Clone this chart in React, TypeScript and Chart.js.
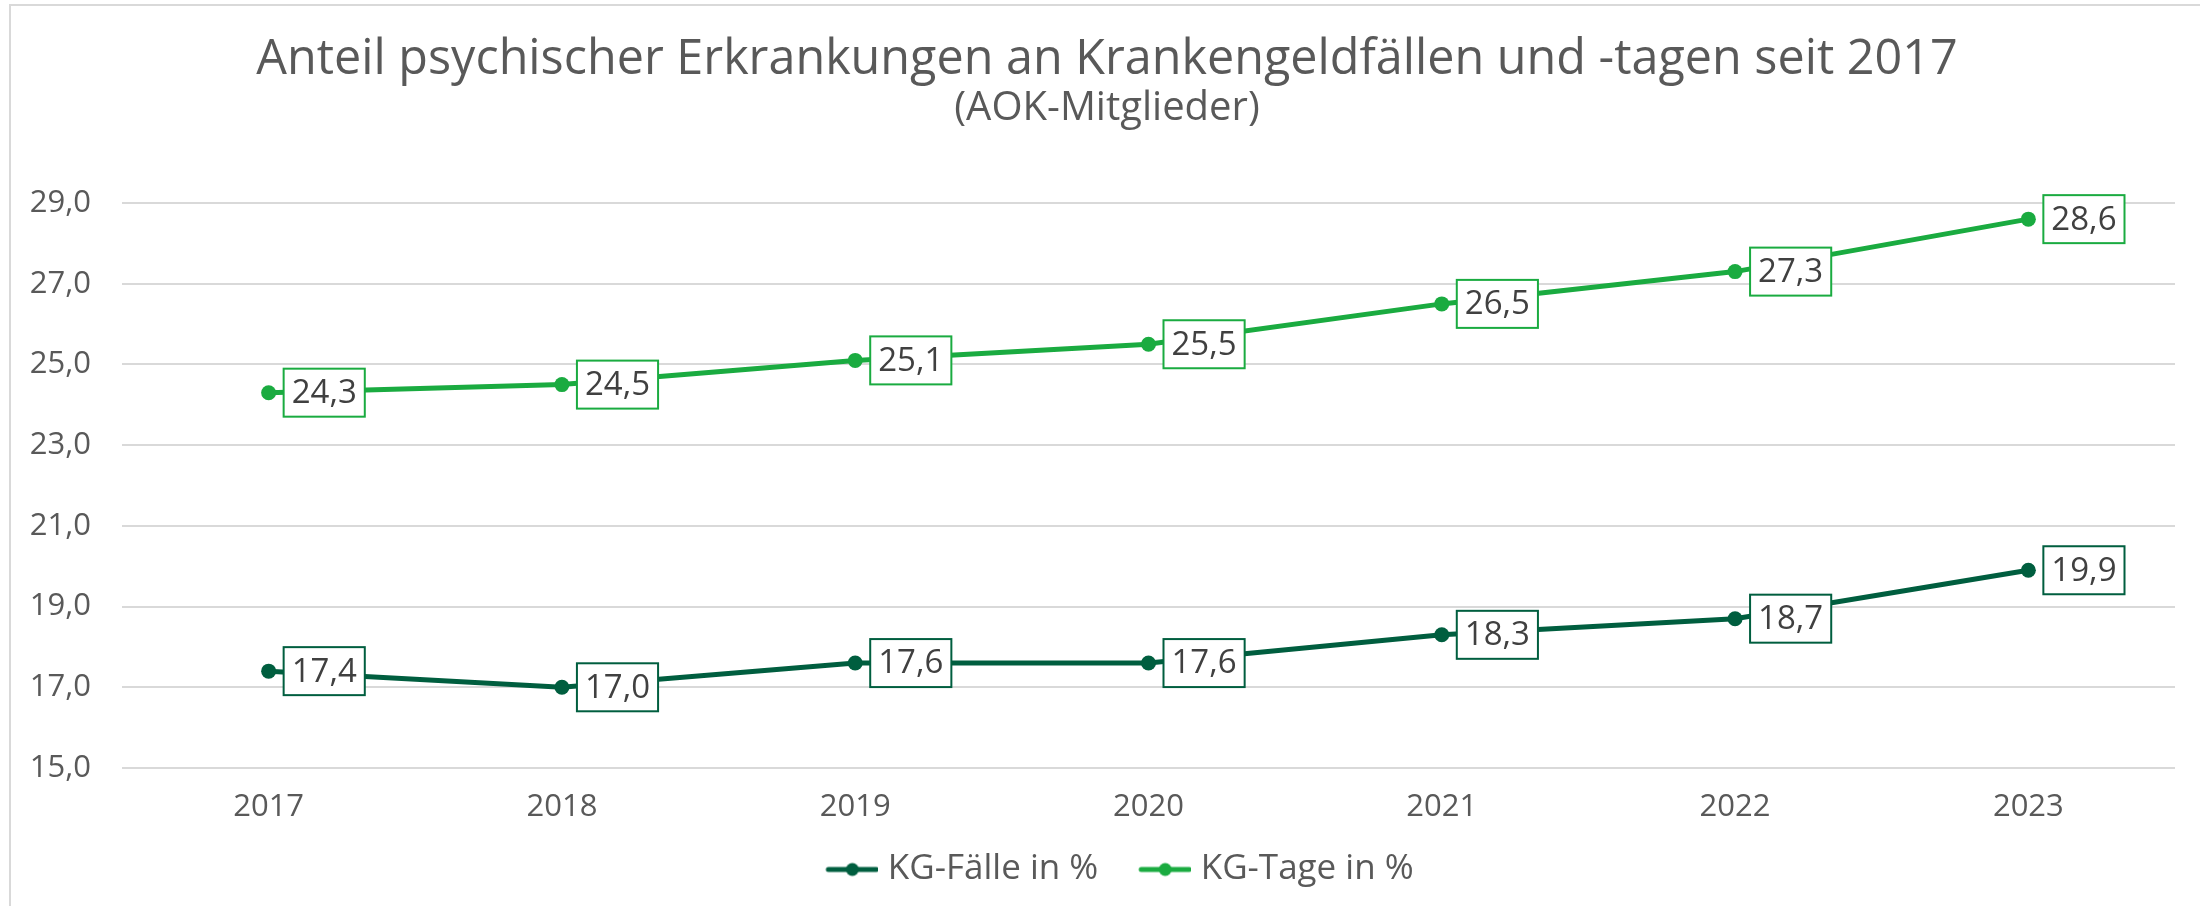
import React, { useEffect, useRef } from "react";
import { Chart, registerables } from "chart.js";

Chart.register(...registerables);

const years = ["2017", "2018", "2019", "2020", "2021", "2022", "2023"];
const kgFaelle = [17.4, 17.0, 17.6, 17.6, 18.3, 18.7, 19.9];
const kgTage = [24.3, 24.5, 25.1, 25.5, 26.5, 27.3, 28.6];
const seriesNames = ["KG-Fälle in %", "KG-Tage in %"];
const yMin = 15;
const yMax = 29;
const yStep = 2;
const titleText = "Anteil psychischer Erkrankungen an Krankengeldfällen und -tagen seit 2017";
const subtitleText = "(AOK-Mitglieder)";

const DARK = "#005E3F";
const LIGHT = "#1AAB40";
const TEXT = "#595959";
const LABEL_TEXT = "#404040";
const GRID = "#D9D9D9";
const TITLE_FONT = "'Open Sans'";
const NUM_FONT = "'Open Sans'";

const fmt = (v: number) => v.toFixed(1).replace(".", ",");

function legendIcon(color: string): HTMLCanvasElement {
  const c = document.createElement("canvas");
  c.width = 86;
  c.height = 16;
  const ctx = c.getContext("2d")!;
  ctx.strokeStyle = color;
  ctx.lineWidth = 5;
  ctx.lineCap = "round";
  ctx.beginPath();
  ctx.moveTo(36, 8);
  ctx.lineTo(84, 8);
  ctx.stroke();
  ctx.fillStyle = color;
  ctx.beginPath();
  ctx.arc(60, 8, 6.5, 0, Math.PI * 2);
  ctx.fill();
  return c;
}

const boxLabelPlugin = {
  id: "boxLabels",
  afterDatasetsDraw(chart: any) {
    const ctx = chart.ctx;
    ctx.save();
    ctx.font = `33px ${NUM_FONT}`;
    ctx.textBaseline = "middle";
    ctx.textAlign = "center";
    chart.data.datasets.forEach((ds: any, i: number) => {
      const meta = chart.getDatasetMeta(i);
      meta.data.forEach((pt: any, j: number) => {
        const txt = fmt(ds.data[j]);
        const w = ctx.measureText(txt).width + 16;
        const h = 48;
        const x = pt.x + 15;
        const y = pt.y - h / 2;
        ctx.fillStyle = "#FFFFFF";
        ctx.fillRect(x, y, w, h);
        ctx.strokeStyle = ds.borderColor;
        ctx.lineWidth = 2;
        ctx.strokeRect(x, y, w, h);
        ctx.fillStyle = LABEL_TEXT;
        ctx.fillText(txt, x + w / 2, pt.y + 1);
      });
    });
    ctx.restore();
  },
};

export default function App() {
  const ref = useRef<HTMLCanvasElement | null>(null);

  useEffect(() => {
    document.body.style.margin = "0";
    if (!ref.current) return;
    const chart = new Chart(ref.current, {
      type: "line",
      data: {
        labels: years,
        datasets: [
          {
            label: seriesNames[0],
            data: kgFaelle,
            borderColor: DARK,
            backgroundColor: DARK,
            borderWidth: 5,
            pointStyle: "circle",
            pointRadius: 7.5,
            pointBackgroundColor: DARK,
            pointBorderColor: DARK,
            pointBorderWidth: 0,
          },
          {
            label: seriesNames[1],
            data: kgTage,
            borderColor: LIGHT,
            backgroundColor: LIGHT,
            borderWidth: 5,
            pointStyle: "circle",
            pointRadius: 7.5,
            pointBackgroundColor: LIGHT,
            pointBorderColor: LIGHT,
            pointBorderWidth: 0,
          },
        ],
      },
      options: {
        animation: false,
        responsive: false,
        devicePixelRatio: 1,
        layout: { padding: { left: 14, right: 0, top: 0, bottom: 9 } },
        plugins: {
          title: {
            display: true,
            text: titleText,
            color: TEXT,
            font: { family: TITLE_FONT, size: 48.5, weight: "normal", lineHeight: 1 },
            padding: { top: 36, bottom: 4 },
          },
          subtitle: {
            display: true,
            text: subtitleText,
            color: TEXT,
            font: { family: TITLE_FONT, size: 40, weight: "normal", lineHeight: 1 },
            padding: { top: 0, bottom: 74.5 },
          },
          legend: {
            display: true,
            position: "bottom",
            labels: {
              usePointStyle: true,
              pointStyleWidth: 70,
              padding: 15,
              color: TEXT,
              font: { family: TITLE_FONT, size: 35 },
              generateLabels: (ch: any) =>
                ch.data.datasets.map((ds: any, i: number) => ({
                  text: ds.label,
                  fillStyle: ds.borderColor,
                  strokeStyle: ds.borderColor,
                  lineWidth: 0,
                  pointStyle: legendIcon(ds.borderColor),
                  datasetIndex: i,
                  hidden: false,
                  fontColor: TEXT,
                })),
            },
          },
          tooltip: { enabled: false },
        },
        scales: {
          x: {
            offset: true,
            grid: { display: false, drawTicks: false },
            border: { display: false },
            ticks: {
              color: TEXT,
              font: { family: NUM_FONT, size: 31 },
              padding: 21,
            },
            afterFit: (s: any) => {
              s.height = 69;
            },
          },
          y: {
            min: yMin,
            max: yMax,
            grid: { color: GRID, lineWidth: 2, drawTicks: false },
            border: { display: false },
            ticks: {
              stepSize: yStep,
              color: TEXT,
              font: { family: NUM_FONT, size: 31 },
              padding: 31,
              callback: (v: any) => fmt(Number(v)),
            },
            afterFit: (s: any) => {
              s.width = 108;
            },
          },
          yRightSpace: {
            type: "linear",
            position: "right",
            min: yMin,
            max: yMax,
            grid: { display: false, drawOnChartArea: false, drawTicks: false },
            border: { display: false },
            ticks: { display: false },
            afterFit: (s: any) => {
              s.width = 25;
            },
          },
        },
      },
      plugins: [boxLabelPlugin],
    } as any);
    return () => chart.destroy();
  }, []);

  return (
    <div style={{ position: "relative", width: 2200, height: 906, overflow: "hidden", background: "#fff" }}>
      <div
        style={{
          position: "absolute",
          left: 9,
          top: 4,
          width: 2400,
          height: 1200,
          border: "2px solid #D9D9D9",
          boxSizing: "border-box",
        }}
      />
      <canvas ref={ref} width={2200} height={906} style={{ position: "absolute", left: 0, top: 0, display: "block" }} />
    </div>
  );
}
